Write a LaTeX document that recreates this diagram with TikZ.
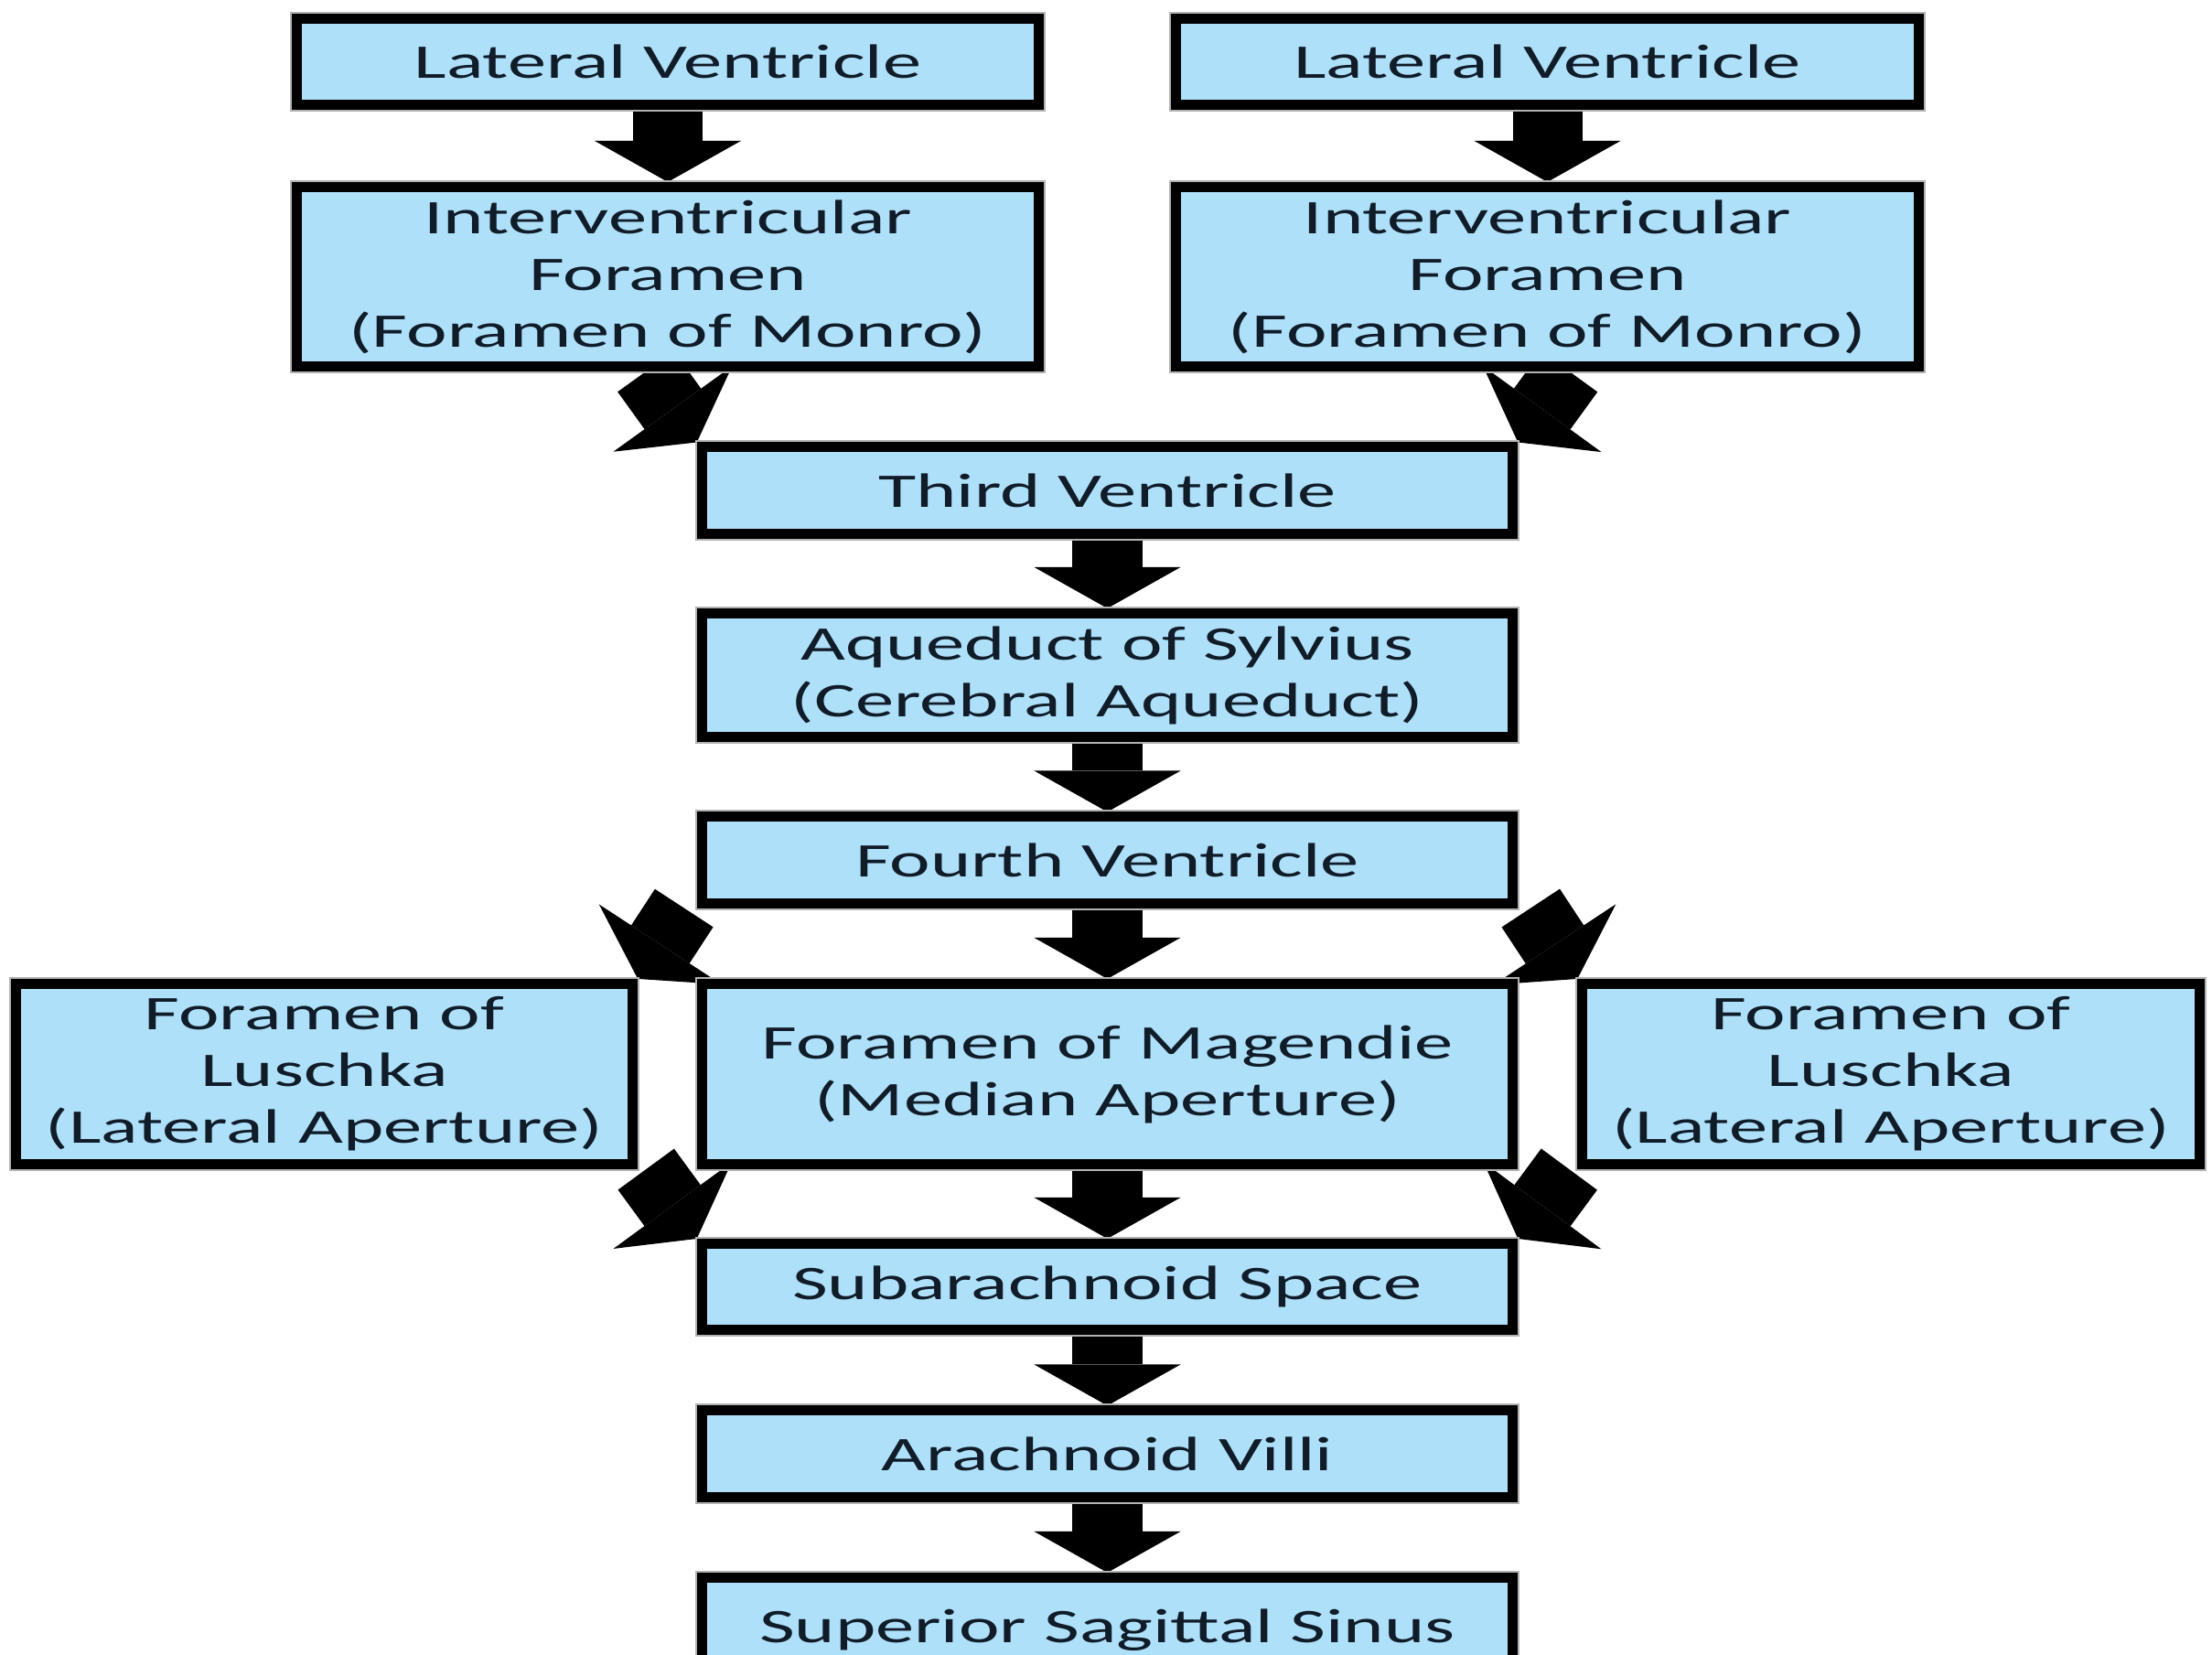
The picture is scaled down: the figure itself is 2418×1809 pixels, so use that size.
\documentclass[tikz,border=0pt]{standalone}
\usepackage{fontspec}
\setmainfont{Carlito}[FakeStretch=1.6]
\usetikzlibrary{arrows.meta,calc,backgrounds}
\definecolor{boxblue}{RGB}{175,224,250}
\definecolor{ink}{RGB}{16,28,40}
\tikzset{
  box/.style={draw=black, line width=1.1mm, fill=boxblue, text=ink, align=center,
    inner sep=0pt, font=\fontsize{15}{17.6}\selectfont,
    preaction={draw=gray!60, line width=1.5mm}},
  topbox/.style={box, minimum width=8.11cm},
  midbox/.style={box, minimum width=8.86cm},
  sidebox/.style={box, minimum width=6.74cm},
  flow/.style={line width=7.6mm, -{Triangle[width=16mm,length=4.5mm,line width=0pt]}},
}
\begin{document}
\begin{tikzpicture}[x=0.01cm, y=-0.01cm]
  \useasboundingbox (0,0) rectangle (2418,1809);
  \clip (0,0) rectangle (2418,1809);
  % boxes
  \node[topbox, minimum height=0.94cm] (lvL) at (730,67.5) {Lateral Ventricle};
  \node[topbox, minimum height=0.94cm] (lvR) at (1691.5,67.5) {Lateral Ventricle};
  \node[topbox, minimum height=1.96cm] (ifL) at (730,302.5) {Interventricular\\Foramen\\(Foramen of Monro)};
  \node[topbox, minimum height=1.96cm] (ifR) at (1691.5,302.5) {Interventricular\\Foramen\\(Foramen of Monro)};
  \node[midbox, minimum height=0.94cm] (third) at (1210.5,536) {Third Ventricle};
  \node[midbox, minimum height=1.35cm] (aqueduct) at (1210.5,738) {Aqueduct of Sylvius\\(Cerebral Aqueduct)};
  \node[midbox, minimum height=0.94cm] (fourth) at (1210.5,940) {Fourth Ventricle};
  \node[sidebox, minimum height=1.97cm] (luschkaL) at (354.5,1174) {Foramen of\\Luschka\\(Lateral Aperture)};
  \node[midbox, minimum height=1.97cm] (magendie) at (1210.5,1174) {Foramen of Magendie\\(Median Aperture)};
  \node[sidebox, minimum height=1.97cm] (luschkaR) at (2067,1174) {Foramen of\\Luschka\\(Lateral Aperture)};
  \node[midbox, minimum height=0.94cm] (subarach) at (1210.5,1406.5) {Subarachnoid Space};
  \node[midbox, minimum height=0.94cm] (villi) at (1210.5,1589) {Arachnoid Villi};
  \node[midbox, minimum height=1.15cm] (sinus) at (1210.5,1782) {Superior Sagittal Sinus};
  % arrows
  \begin{pgfonlayer}{background}
    \fill[white] (0,0) rectangle (2418,1809);
    \draw[flow] (lvL.south) -- (ifL.north);
    \draw[flow] (lvR.south) -- (ifR.north);
    \draw[flow] ($(ifL.south)+(-24,0)$) -- (third.north west);
    \draw[flow] ($(ifR.south)+(24,0)$) -- (third.north east);
    \draw[flow] (third.south) -- (aqueduct.north);
    \draw[flow] (aqueduct.south) -- (fourth.north);
    \draw[flow] ($(fourth.south west)+(-14,0)$) -- (luschkaL.north east);
    \draw[flow] (fourth.south) -- (magendie.north);
    \draw[flow] ($(fourth.south east)+(14,0)$) -- (luschkaR.north west);
    \draw[flow] ($(luschkaL.south east)+(9,0)$) -- (subarach.north west);
    \draw[flow] (magendie.south) -- (subarach.north);
    \draw[flow] ($(luschkaR.south west)+(-9,0)$) -- (subarach.north east);
    \draw[flow] (subarach.south) -- (villi.north);
    \draw[flow] (villi.south) -- (sinus.north);
  \end{pgfonlayer}
\end{tikzpicture}
\end{document}
